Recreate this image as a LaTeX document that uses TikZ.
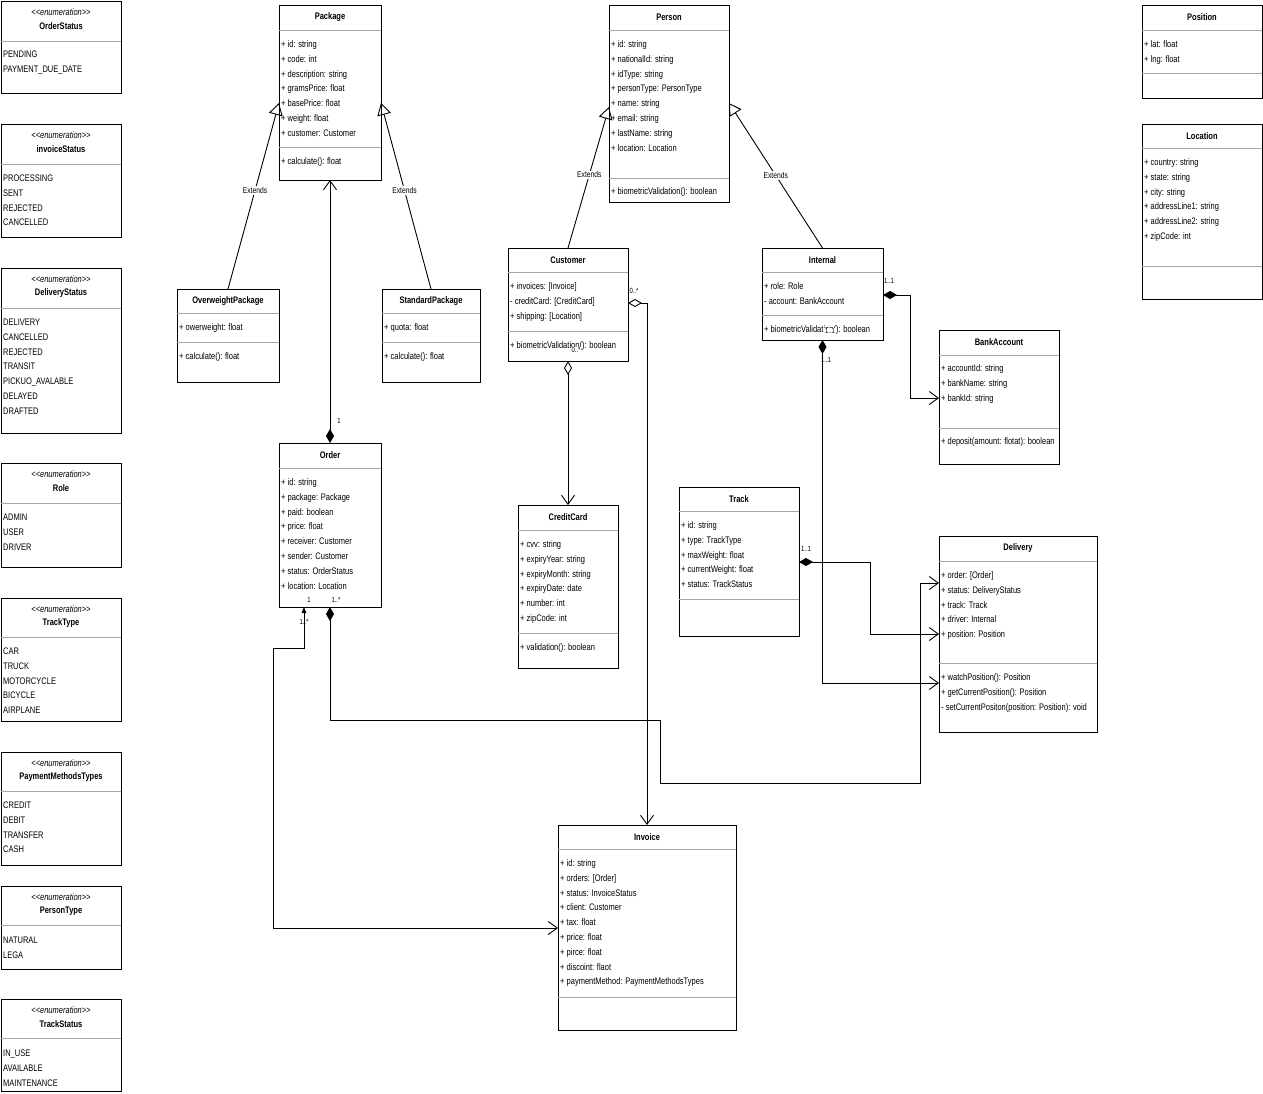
\documentclass[tikz,border=0pt]{standalone}
\usepackage{fontspec}
\setmainfont{Liberation Sans}[FakeStretch=0.79]
\usetikzlibrary{arrows.meta}
\tikzset{
  box/.style={draw=black, line width=0.9pt, fill=white, inner sep=0pt, outer sep=0pt, anchor=north west},
  divl/.style={draw=black!35, line width=0.9pt},
  ttl/.style={font=\fontsize{9.5}{11}\selectfont\bfseries, inner sep=0pt},
  ster/.style={font=\fontsize{9.5}{11}\selectfont\itshape, inner sep=0pt},
  attr/.style={font=\fontsize{9.5}{11}\selectfont, inner sep=0pt, anchor=base west},
  mult/.style={font=\fontsize{7.5}{9}\selectfont, inner sep=0.5pt},
  multw/.style={font=\fontsize{7.5}{9}\selectfont, inner sep=0.8pt, fill=white},
  lbl/.style={font=\fontsize{8.5}{10}\selectfont, fill=white, inner sep=1pt},
  conn/.style={draw=black, line width=0.9pt},
  cmp/.tip={Diamond[length=14pt,width=8pt]},
  agg/.tip={Diamond[open,length=14pt,width=8pt]},
  opn/.tip={Straight Barb[length=9pt,width=13pt]},
  gtri/.tip={Triangle[open,length=12pt,width=14pt]},
  smt/.tip={Triangle[length=6pt,width=4.5pt]},
}
% class box: name, x1, y1, x2, y2, title, header divider y
\newcommand\ucls[7]{%
  \pgfmathsetmacro\uw{#4-#2}\pgfmathsetmacro\uh{#5-#3}%
  \node[box, minimum width=\uw pt, minimum height=\uh pt] (#1) at (#2,#3) {};
  \draw[divl] (#1.west |- 0,#7) -- (#1.east |- 0,#7);
  \pgfmathsetmacro\uty{(#3+#7)/2}\pgfmathsetmacro\utx{(#2+#4)/2}%
  \node[ttl] (#1-t) at (\utx,\uty) {#6};
}
% second divider: name, y
\newcommand\udiv[2]{\draw[divl] (#1.west |- 0,#2) -- (#1.east |- 0,#2);}
% enumeration: name, y1, y2, divider y, title
\newcommand\uenum[5]{%
  \pgfmathsetmacro\uh{#3-#2}%
  \node[box, minimum width=120pt, minimum height=\uh pt] (#1) at (1,#2) {};
  \draw[divl] (#1.west |- 0,#4) -- (#1.east |- 0,#4);
  \node[ster] (#1-s) at (61,{#2+11}) {{<}{<}enumeration{>}{>}};
  \node[ttl] (#1-t) at (61,{#2+25}) {#5};
}
% lines of text: prefix, x, first baseline y, list
\newcommand\ulines[4]{%
  \foreach \itm [count=\i] in {#4} {\node[attr] (#1\i) at (#2,{#3+(\i-1)*14.8}) {\itm};}
}
\begin{document}
\begin{tikzpicture}[x=1pt,y=-1pt]
\fill[white] (0,0) rectangle (1263,1093);
\useasboundingbox (0,0) rectangle (1263,1093);

% ---------- enumerations ----------
\uenum{es1}{1}{93}{41}{OrderStatus}
\ulines{es1a}{3}{57.5}{PENDING, PAYMENT\_DUE\_DATE}
\uenum{es2}{124}{237}{164}{invoiceStatus}
\ulines{es2a}{3}{181.5}{PROCESSING, SENT, REJECTED, CANCELLED}
\uenum{es3}{268}{433}{308}{DeliveryStatus}
\ulines{es3a}{3}{325.5}{DELIVERY, CANCELLED, REJECTED, TRANSIT, PICKUO\_AVALABLE, DELAYED, DRAFTED}
\uenum{es4}{463}{567}{503}{Role}
\ulines{es4a}{3}{520.5}{ADMIN, USER, DRIVER}
\uenum{es5}{598}{721}{637}{TrackType}
\ulines{es5a}{3}{654.5}{CAR, TRUCK, MOTORCYCLE, BICYCLE, AIRPLANE}
\uenum{es6}{752}{865}{791}{PaymentMethodsTypes}
\ulines{es6a}{3}{808.5}{CREDIT, DEBIT, TRANSFER, CASH}
\uenum{es7}{886}{969}{925}{PersonType}
\ulines{es7a}{3}{943.5}{NATURAL, LEGA}
\uenum{es8}{999}{1091}{1038}{TrackStatus}
\ulines{es8a}{3}{1056.5}{IN\_USE, AVAILABLE, MAINTENANCE}

% ---------- classes ----------
\ucls{pkg}{279}{5}{381}{180}{Package}{30}
\udiv{pkg}{147}
\ulines{pkga}{281}{47.5}{+ id: string, + code: int, + description: string, + gramsPrice: float, + basePrice: float, + weight: float, + customer: Customer}
\ulines{pkgm}{281}{164.5}{+ calculate(): float}

\ucls{ow}{177}{289}{279}{382}{OverweightPackage}{313}
\udiv{ow}{342}
\ulines{owa}{179}{330.5}{+ owerweight: float}
\ulines{owm}{179}{359.5}{+ calculate(): float}

\ucls{sp}{382}{289}{480}{382}{StandardPackage}{313}
\udiv{sp}{342}
\ulines{spa}{384}{330.5}{+ quota: float}
\ulines{spm}{384}{359.5}{+ calculate(): float}

\ucls{per}{609}{5}{729}{202}{Person}{30}
\udiv{per}{178}
\ulines{pera}{611}{47.5}{+ id: string, + nationalId: string, + idType: string, + personType: PersonType, + name: string, + email: string, + lastName: string, + location: Location}
\ulines{perm}{611}{194.5}{+ biometricValidation(): boolean}

\ucls{cus}{508}{248}{628}{361}{Customer}{272}
\udiv{cus}{331}
\ulines{cusa}{510}{289.5}{+ invoices: [Invoice], - creditCard: [CreditCard], + shipping: [Location]}
\ulines{cusm}{510}{348.5}{+ biometricValidation(): boolean}

\ucls{int}{762}{248}{883}{340}{Internal}{272}
\udiv{int}{315}
\ulines{inta}{764}{289.5}{+ role: Role, - account: BankAccount}
\ulines{intm}{764}{332.5}{+ biometricValidation(): boolean}

\ucls{ba}{939}{330}{1059}{464}{BankAccount}{355}
\udiv{ba}{428}
\ulines{baa}{941}{371.5}{+ accountId: string, + bankName: string, + bankId: string}
\ulines{bam}{941}{444.5}{+ deposit(amount: flotat): boolean}

\ucls{ord}{279}{443}{381}{607}{Order}{468}
\ulines{orda}{281}{485.5}{+ id: string, + package: Package, + paid: boolean, + price: float, + receiver: Customer, + sender: Customer, + status: OrderStatus, + location: Location}

\ucls{cc}{518}{505}{618}{668}{CreditCard}{530}
\udiv{cc}{633}
\ulines{cca}{520}{547.5}{+ cvv: string, + expiryYear: string, + expiryMonth: string, + expiryDate: date, + number: int, + zipCode: int}
\ulines{ccm}{520}{650.5}{+ validation(): boolean}

\ucls{trk}{679}{487}{799}{636}{Track}{511}
\udiv{trk}{599}
\ulines{trka}{681}{528.5}{+ id: string, + type: TrackType, + maxWeight: float, + currentWeight: float, + status: TrackStatus}

\ucls{del}{939}{536}{1097}{732}{Delivery}{561}
\udiv{del}{663}
\ulines{dela}{941}{578.5}{+ order: [Order], + status: DeliveryStatus, + track: Track, + driver: Internal, + position: Position}
\ulines{delm}{941}{680.5}{+ watchPosition(): Position, + getCurrentPosition(): Position, - setCurrentPositon(position: Position): void}

\ucls{inv}{558}{825}{736}{1030}{Invoice}{849}
\udiv{inv}{997}
\ulines{inva}{560}{866.5}{+ id: string, + orders: [Order], + status: InvoiceStatus, + client: Customer, + tax: float, + price: float, + pirce: float, + discoint: flaot, + paymentMethod: PaymentMethodsTypes}

\ucls{pos}{1142}{5}{1262}{98}{Position}{30}
\udiv{pos}{73}
\ulines{posa}{1144}{47.5}{+ lat: float, + lng: float}

\ucls{loc}{1142}{124}{1262}{299}{Location}{148}
\udiv{loc}{266}
\ulines{loca}{1144}{165.5}{+ country: string, + state: string, + city: string, + addressLine1: string, + addressLine2: string, + zipCode: int}

% ---------- generalizations ----------
\draw[conn, -gtri] (ow.north) -- node[lbl, pos=0.53] (ext1) {Extends} (pkg.west |- 0,103);
\draw[conn, -gtri] (sp.north) -- node[lbl, pos=0.53] (ext2) {Extends} (pkg.east |- 0,103);
\draw[conn, -gtri] (cus.north) -- node[lbl, pos=0.52] (ext3) {Extends} (per.west |- 0,107);
\draw[conn, -gtri] (int.north) -- node[lbl, pos=0.50] (ext4) {Extends} (per.east |- 0,103);

% ---------- associations ----------
\draw[conn, cmp-opn] (ord.north) -- (pkg.south);
\draw[conn, smt-opn] (ord.south -| 304,0) -- (304,648) -- (273,648) -- (273,928) -- (inv.west |- 0,928);
\draw[conn, cmp-opn] (ord.south) -- (330,720) -- (660,720) -- (660,783) -- (920,783) -- (920,583) -- (del.west |- 0,583);
\draw[conn, agg-opn] (cus.east |- 0,303) -| (inv.north);
\draw[conn, agg-opn] (cus.south) -- (cc.north);
\draw[conn, cmp-opn] (int.east |- 0,295) -- (910,295) -- (910,398) -- (ba.west |- 0,398);
\draw[conn, cmp-opn] (int.south) |- (del.west |- 0,683);
\draw[conn, cmp-opn] (trk.east |- 0,562) -- (870,562) -- (870,634) -- (del.west |- 0,634);

% ---------- multiplicities ----------
\node[mult] (m1) at (339,421) {1};
\node[mult] (m2) at (309,600) {1};
\node[mult] (m3) at (336,600) {1..*};
\node[mult] (m4) at (304,622) {1..*};
\node[mult] (m5) at (634,291) {0..*};
\node[multw] (m6) at (576,350) {0..*};
\node[mult] (m7) at (889,281) {1..1};
\node[multw] (m8) at (830,331) {1..1};
\node[mult] (m9) at (826,360) {1..1};
\node[mult] (m10) at (806,549) {1..1};
\end{tikzpicture}
\end{document}
